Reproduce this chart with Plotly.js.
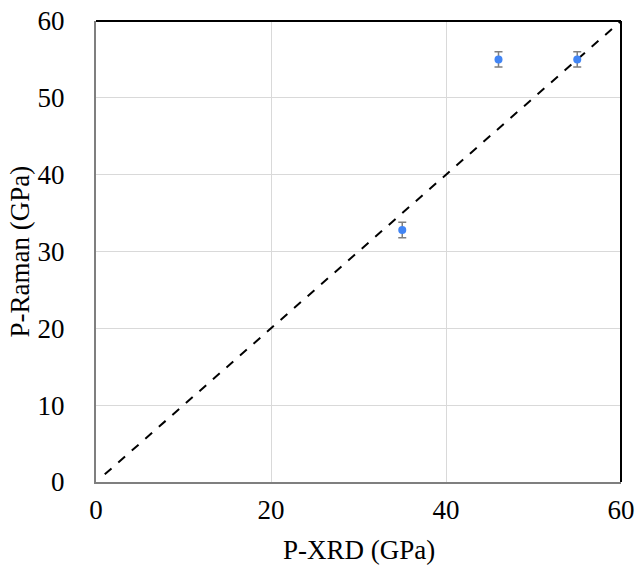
<!DOCTYPE html>
<html><head><meta charset="utf-8">
<script src="https://cdn.plot.ly/plotly-3.0.1.min.js"></script>
<style>body{margin:0;padding:0;background:#fff}</style>
</head><body>
<div id="chart" style="width:639px;height:567px"></div>
<script>
const xrd = [35, 46, 55];
const raman = [32.8, 55, 55];
const ramanErr = [1, 1, 1];
const refX = [1, 60];
const refY = [1, 60];
const xTitle = 'P-XRD (GPa)';
const yTitle = 'P-Raman (GPa)';

const traces = [
  {x: refX, y: refY, mode: 'lines', line: {color: '#000', dash: 'dash', width: 2}, hoverinfo: 'skip', showlegend: false},
  {x: xrd, y: raman, mode: 'markers', marker: {color: '#4285F4', size: 8},
   error_y: {type: 'data', array: ramanErr, visible: true, color: '#7f7f7f', thickness: 1.5, width: 4}, showlegend: false}
];
const font = {family: 'Liberation Serif, Times New Roman, serif', size: 27, color: '#000'};
const layout = {
  width: 639, height: 567,
  margin: {l: 96, r: 18, t: 21, b: 85},
  paper_bgcolor: '#fff', plot_bgcolor: '#fff',
  font: font,
  xaxis: {range: [0, 60], dtick: 20, showgrid: true, gridcolor: '#d9d9d9', gridwidth: 1,
    zeroline: false, showline: true, linecolor: '#7f7f7f', linewidth: 2, ticks: '',
    ticklabelstandoff: 3, automargin: false, tickfont: font},
  yaxis: {range: [0, 60], dtick: 10, showgrid: true, gridcolor: '#d9d9d9', gridwidth: 1,
    zeroline: false, showline: true, linecolor: '#7f7f7f', linewidth: 2, ticks: '',
    ticklabelstandoff: 24, automargin: false, tickfont: font},
  annotations: [
    {text: xTitle, xref: 'paper', yref: 'paper', x: 0.5, y: 0, xanchor: 'center', yanchor: 'middle',
     yshift: -68, showarrow: false, font: font},
    {text: yTitle, xref: 'paper', yref: 'paper', x: 0, y: 0.5, xanchor: 'center', yanchor: 'middle',
     xshift: -77, textangle: -90, showarrow: false, font: font}
  ],
  shapes: [
    {type: 'line', xref: 'paper', yref: 'paper', x0: 0, x1: 1, y0: 1, y1: 1, line: {color: '#000', width: 2}},
    {type: 'line', xref: 'paper', yref: 'paper', x0: 1, x1: 1, y0: 0, y1: 1, line: {color: '#000', width: 2}}
  ]
};
Plotly.newPlot('chart', traces, layout, {displayModeBar: false});
</script>
</body></html>
